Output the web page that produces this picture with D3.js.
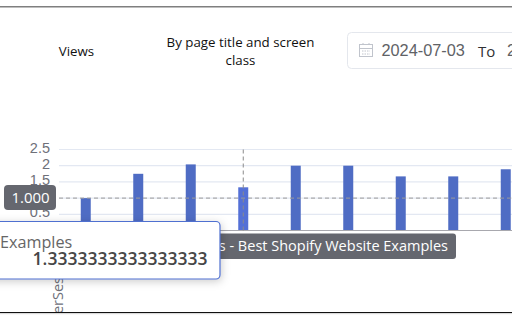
<!DOCTYPE html>
<html><head><meta charset="utf-8">
<script src="https://cdn.jsdelivr.net/npm/d3@7"></script>
<style>html,body{margin:0;padding:0;background:#fff;overflow:hidden}svg{display:block}</style>
</head><body><svg id="c" width="512" height="320"></svg>
<script>
const categories=["p1","p2","p3","p4","p5","p6","p7","p8","p9"];
const values=[1,1.75,2.04,1.3333333333333333,2,2,1.67,1.67,1.89];
const yTicks=[0.5,1,1.5,2,2.5];
const yTickLabels=["0.5","1","1.5","2","2.5"];
const pointerY=1;
const pointerLabel="1.000";
const activeIndex=3;
const headerViews="Views";
const headerBy=["By page title and screen","class"];
const dateFrom="2024-07-03";
const dateTo="2";
const axisName="viewsPerSession";
const xPointerText="s - Best Shopify Website Examples";
const tipName="Examples";
const tipValue="1.3333333333333333";
const ui='"Open Sans","Noto Sans",sans-serif', ar='"Liberation Sans",Arial,sans-serif';
const svg=d3.select("#c");
const x=d3.scaleBand().domain(categories).range([59.5,532]).paddingInner(0);
const y=d3.scaleLinear().domain([0,2.5]).range([230.5,149.5]);

svg.append("rect").attr("x",0).attr("y",6).attr("width",512).attr("height",1.5).attr("fill","#7f7f7f");

svg.append("text").attr("x",76.5).attr("y",56).attr("text-anchor","middle").attr("font-family",ui).attr("font-size",13.3).attr("fill","#111").text(headerViews);
headerBy.forEach((t,i)=>svg.append("text").attr("x",240.5).attr("y",46.5+i*18.5).attr("text-anchor","middle").attr("font-family",ui).attr("font-size",13.3).attr("fill","#111").text(t));

svg.append("rect").attr("x",347.5).attr("y",32.5).attr("width",200).attr("height",36).attr("rx",4).attr("fill","#fff").attr("stroke","#e4e7ed");
const ic=svg.append("g").attr("fill","none").attr("stroke","#c0c4cc");
ic.append("rect").attr("x",359.5).attr("y",44.5).attr("width",13).attr("height",12);
ic.append("path").attr("d","M359.5 48.5H372.5M363 43V45M369 43V45");
ic.append("path").attr("d","M362 51H370M362 54H370").attr("stroke-dasharray","1.5 1");
svg.append("text").attr("x",381.5).attr("y",55.5).attr("font-family",ar).attr("font-size",16.3).attr("fill","#606266").text(dateFrom);
svg.append("text").attr("x",478).attr("y",57).attr("font-family",ui).attr("font-size",15).attr("fill","#303133").text("To");
svg.append("text").attr("x",507).attr("y",55.5).attr("font-family",ar).attr("font-size",16.3).attr("fill","#606266").text(dateTo);

svg.append("g").selectAll("line").data(yTicks).join("line")
 .attr("x1",59).attr("x2",512).attr("y1",d=>y(d)).attr("y2",d=>y(d)).attr("stroke","#e3e8f2").attr("stroke-width",1.2);
svg.append("g").selectAll("text").data(yTicks).join("text")
 .attr("x",50).attr("y",d=>y(d)+3).attr("text-anchor","end").attr("font-family",ar).attr("font-size",14.5).attr("fill","#6e7079")
 .text((d,i)=>yTickLabels[i]);
svg.append("g").selectAll("rect").data(values).join("rect")
 .attr("x",(d,i)=>x(categories[i])+x.bandwidth()/2-5).attr("width",10)
 .attr("y",d=>y(d)).attr("height",d=>y(0)-y(d))
 .attr("fill",(d,i)=>i===activeIndex?"#5470d6":"#4f6cc4");
svg.append("line").attr("x1",59).attr("x2",512).attr("y1",y(0)).attr("y2",y(0)).attr("stroke","#a8a8ae").attr("stroke-width",1.2);
svg.append("line").attr("x1",59).attr("x2",512).attr("y1",y(pointerY)).attr("y2",y(pointerY)).attr("stroke","#9a9a9a").attr("stroke-dasharray","4 3");
const ax=x(categories[activeIndex])+x.bandwidth()/2;
svg.append("line").attr("x1",ax).attr("x2",ax).attr("y1",149.5).attr("y2",230.5).attr("stroke","#8a8a8a").attr("stroke-dasharray","4 3");
svg.append("rect").attr("x",4).attr("y",185).attr("width",52).attr("height",25).attr("rx",4).attr("fill","#65676f");
svg.append("text").attr("x",30.5).attr("y",y(pointerY)+5).attr("text-anchor","middle").attr("font-family",ui).attr("font-size",15).attr("fill","#fff").text(pointerLabel);
svg.append("clipPath").attr("id","cp").append("rect").attr("x",0).attr("y",0).attr("width",512).attr("height",312);
svg.append("g").attr("clip-path","url(#cp)").append("text").attr("transform","translate(62.5,360) rotate(-90)").attr("font-family",ui).attr("font-size",14.5).attr("fill","#6e7079").text(axisName);
svg.append("rect").attr("x",150).attr("y",233.5).attr("width",306).attr("height",25.5).attr("rx",3).attr("fill","#65676f");
svg.append("text").attr("x",448).attr("y",251).attr("text-anchor","end").attr("font-family",ui).attr("font-size",14.5).attr("fill","#fff").text(xPointerText);
const f=svg.append("defs").append("filter").attr("id","sh").attr("x","-10%").attr("y","-20%").attr("width","120%").attr("height","150%");
f.append("feDropShadow").attr("dx",1).attr("dy",2).attr("stdDeviation",4).attr("flood-color","#000").attr("flood-opacity",0.2);
svg.append("rect").attr("x",-20).attr("y",221.5).attr("width",240).attr("height",57.5).attr("rx",4).attr("fill","#fff").attr("stroke","#4f6fd0").attr("stroke-width",1.2).attr("filter","url(#sh)");
svg.append("text").attr("x",0).attr("y",248).attr("font-family",ui).attr("font-size",16.2).attr("fill","#666").text(tipName);
svg.append("text").attr("x",207.5).attr("y",264.5).attr("text-anchor","end").attr("font-family",ui).attr("font-size",17.5).attr("font-weight",600).attr("fill","#464646").text(tipValue);
svg.append("rect").attr("x",0).attr("y",312).attr("width",512).attr("height",1.2).attr("fill","#111");
svg.append("rect").attr("x",0).attr("y",313.2).attr("width",512).attr("height",1).attr("fill","#ddd");
</script></body></html>
